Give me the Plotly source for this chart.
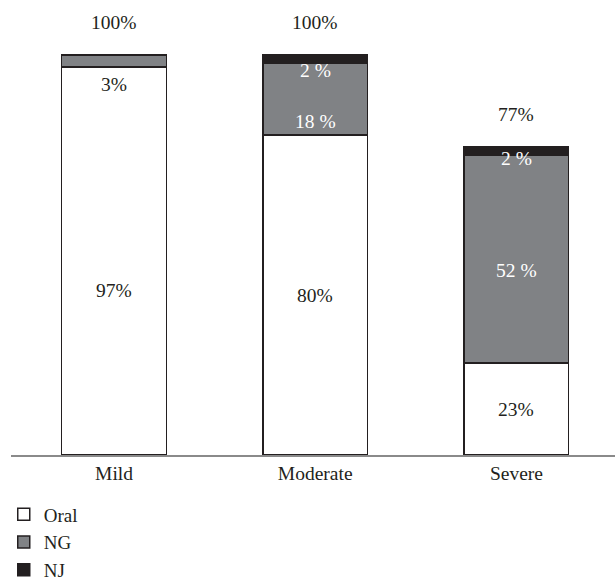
import plotly.graph_objects as go

categories = ["Mild", "Moderate", "Severe"]
oral = [97, 80, 23]
ng = [3, 18, 52]
nj = [0, 2, 2]
totals = [100, 100, 77]

oral_labels = ["97%", "80%", "23%"]
ng_labels = ["3%", "18 %", "52 %"]
nj_labels = ["", "2 %", "2 %"]
total_labels = ["100%", "100%", "77%"]

FONT = "Liberation Serif"
LINE = "#231f20"
GRAY = "#808285"
FS = 19.5

fig = go.Figure()
for name, vals, color in [("Oral", oral, "white"), ("NG", ng, GRAY), ("NJ", nj, LINE)]:
    fig.add_trace(go.Bar(
        x=categories, y=vals, name=name,
        marker=dict(color=color, line=dict(color=LINE, width=1.5)),
        width=0.52, hoverinfo="skip",
    ))

ann = []
# pixel shifts tuned to reference placement
oral_shift = [-29, 0, 0]
ng_shift = [-17, -22, -11]
nj_shift = [0, -11, -7]
for i, c in enumerate(categories):
    ann.append(dict(x=c, y=oral[i] / 2, text=oral_labels[i], yshift=oral_shift[i],
                    font=dict(color="#231f20")))
    if ng[i] < 5:
        ann.append(dict(x=c, y=oral[i], text=ng_labels[i], yshift=ng_shift[i],
                        font=dict(color="#231f20")))
    else:
        ann.append(dict(x=c, y=oral[i] + ng[i] / 2, text=ng_labels[i], yshift=ng_shift[i],
                        font=dict(color="white")))
    if nj_labels[i]:
        ann.append(dict(x=c, y=oral[i] + ng[i] + nj[i] / 2, text=nj_labels[i], yshift=nj_shift[i],
                        font=dict(color="white")))
    ann.append(dict(x=c, y=totals[i], text=total_labels[i], yshift=33,
                    font=dict(color="#231f20")))
for a in ann:
    a.update(showarrow=False, xref="x", yref="y")
    a["font"].update(family=FONT, size=FS)

fig.update_layout(
    barmode="stack",
    width=615, height=581,
    margin=dict(l=11, r=0, t=10, b=126, autoexpand=False),
    paper_bgcolor="white", plot_bgcolor="white",
    font=dict(family=FONT, size=FS, color="#231f20"),
    annotations=ann,
    showlegend=True,
    legend=dict(orientation="v", x=-0.012, xanchor="left", y=-0.091, yanchor="top",
                traceorder="normal", font=dict(family=FONT, size=19, color="#231f20"),
                bgcolor="rgba(0,0,0,0)"),
    xaxis=dict(range=[-0.512, 2.49], showline=True, linecolor="#8a8a8a", linewidth=1.5,
               showgrid=False, ticks="", zeroline=False,
               tickfont=dict(family=FONT, size=FS, color="#231f20")),
    yaxis=dict(range=[0, 111.25], visible=False, showgrid=False, zeroline=False),
)

fig.write_html("out.html", config={"displayModeBar": False},
               post_script="document.body.style.margin='0';")
